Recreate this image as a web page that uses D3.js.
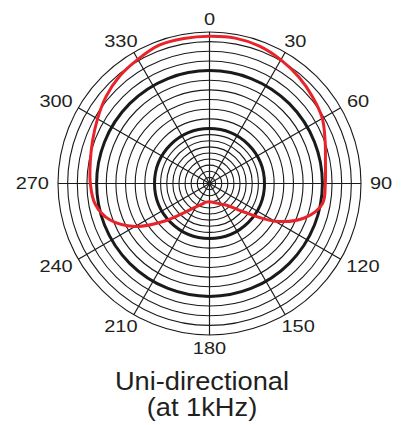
<!DOCTYPE html>
<html>
<head>
<meta charset="utf-8">
<script src="https://cdn.jsdelivr.net/npm/d3@7"></script>
<style>
  body { margin: 0; background: #fff; }
  svg { display: block; }
</style>
</head>
<body>
<div id="polar"></div>
<script>
// angle labels, degrees clockwise from the front (top)
var angleTicks = [0, 30, 60, 90, 120, 150, 180, 210, 240, 270, 300, 330];

// grid rings in dB, bold ones listed separately
var ringLevels = [0, -2, -4, -6, -8, -10, -12, -14, -16, -18, -20,
                  -22, -24, -26, -28, -30, -32, -34, -36];
var boldRings = [-8, -20];

var patternAngles = [0, 10, 20, 30, 40, 50, 60, 70, 80, 90, 100, 110,
                     120, 130, 140, 150, 160, 170, 180, 190, 200, 210, 220, 230,
                     240, 250, 260, 270, 280, 290, 300, 310, 320, 330, 340, 350];
var patternDb = [-0.9, -0.8, -1.1, -1.8, -2.6, -3.5, -4.4, -5.9, -7.0, -7.4, -7.6, -10.5,
                 -15.8, -23.6, -28.5, -30.2, -31.2, -31.8, -32.0, -31.8, -30.8, -29.2, -25.9, -19.3,
                 -13.6, -9.4, -7.3, -6.7, -6.3, -5.6, -4.6, -3.4, -2.4, -1.7, -0.9, -0.9];

var titleLines = ["Uni-directional", "(at 1kHz)"];

var svgWidth = 406;
var svgHeight = 425;
var cx = 209.5, cy = 183.5, R = 151.5;

var svg = d3.select("#polar")
    .append("svg")
    .attr("width", svgWidth)
    .attr("height", svgHeight);

var chartGroup = svg.append("g")
    .attr("transform", `translate(${cx}, ${cy})`);

// radial scale: dB -> px (inner region compressed)
var rScale = d3.scaleLinear()
    .domain([-38, -20, 0])
    .range([0, 55, R]);

var aScale = d3.scaleLinear()
    .domain([0, 360])
    .range([0, 2 * Math.PI]);

//rings
chartGroup.selectAll(".ring")
    .data(ringLevels)
    .enter()
    .append("circle")
    .attr("class", "ring")
    .attr("r", d => rScale(d))
    .attr("fill", "none")
    .attr("stroke", "#1a1a1a")
    .attr("stroke-width", d => boldRings.indexOf(d) >= 0 ? 3 : 1.1);

//spokes
chartGroup.selectAll(".spoke")
    .data(angleTicks)
    .enter()
    .append("line")
    .attr("class", "spoke")
    .attr("x1", 0)
    .attr("y1", 0)
    .attr("x2", d => rScale(0) * Math.sin(aScale(d)))
    .attr("y2", d => -rScale(0) * Math.cos(aScale(d)))
    .attr("stroke", "#1a1a1a")
    .attr("stroke-width", 1.2);

//pattern curve
var pattern = patternAngles.map(function (a, i) {
    return { angle: a, db: patternDb[i] };
});

var radialLine = d3.lineRadial()
    .angle(d => aScale(d.angle))
    .radius(d => rScale(d.db))
    .curve(d3.curveCatmullRomClosed.alpha(0.5));

chartGroup.append("path")
    .datum(pattern)
    .attr("d", radialLine)
    .attr("fill", "none")
    .attr("stroke", "#e8232a")
    .attr("stroke-width", 3)
    .attr("stroke-linejoin", "round");

//angle labels
angleTicks.forEach(function (a) {
    var t = chartGroup.append("text")
        .text(a)
        .style("font-family", "'Liberation Sans', Arial, sans-serif")
        .style("font-size", "16px")
        .style("fill", "#231f20")
        .attr("text-anchor", "middle")
        .attr("dy", "0.36em");
    var w = t.node().getComputedTextLength() * 1.25;
    t.attr("textLength", w).attr("lengthAdjust", "spacingAndGlyphs");
    var s = Math.sin(aScale(a)), c = Math.cos(aScale(a));
    t.attr("x", (R + 9) * s + s * w / 2)
        .attr("y", -(R + 7) * c - c * 6);
});

//title
titleLines.forEach(function (line, i) {
    var t = svg.append("text")
        .text(line)
        .attr("x", 202)
        .attr("y", 390 + i * 26)
        .attr("text-anchor", "middle")
        .style("font-family", "'Liberation Sans', Arial, sans-serif")
        .style("font-size", "25px")
        .style("fill", "#231f20");
    var w = t.node().getComputedTextLength() * 1.09;
    t.attr("textLength", w).attr("lengthAdjust", "spacingAndGlyphs");
});
</script>
</body>
</html>
